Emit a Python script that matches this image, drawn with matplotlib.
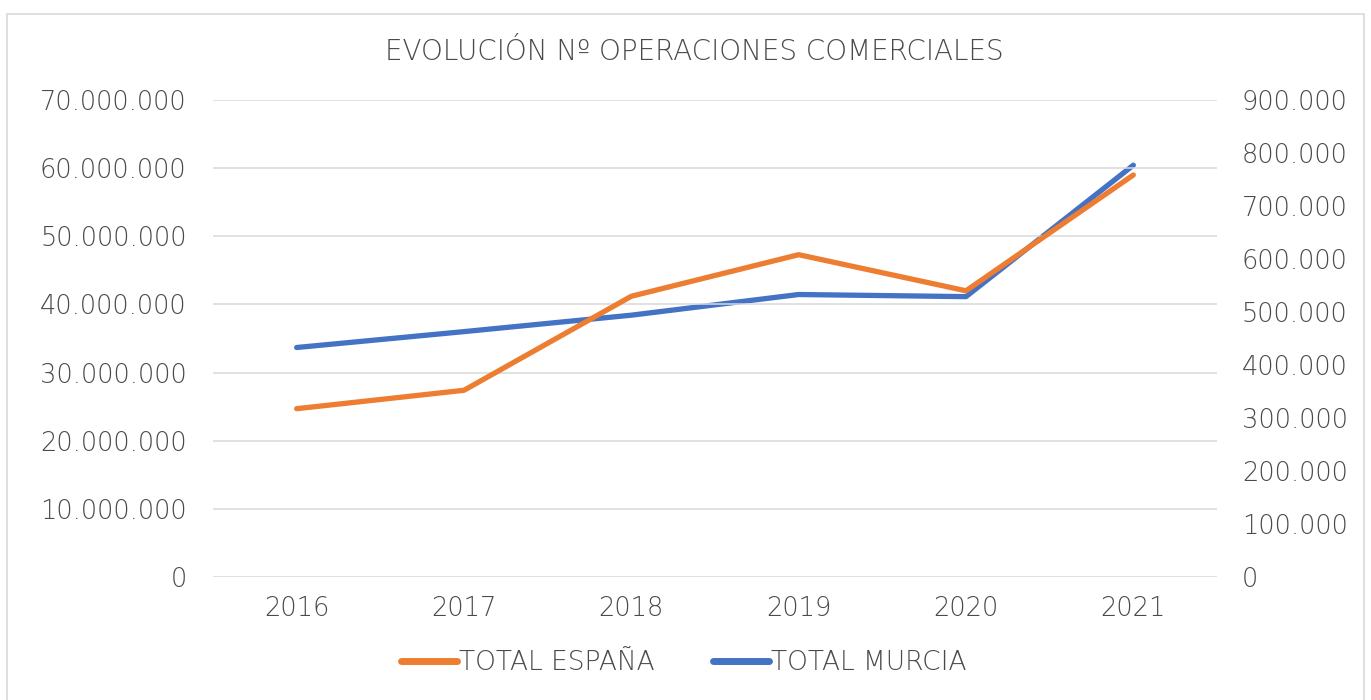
import matplotlib
matplotlib.use("Agg")
import matplotlib.pyplot as plt
from matplotlib.ticker import FuncFormatter, MultipleLocator
from matplotlib.lines import Line2D
from matplotlib.patches import Rectangle

years = ["2016", "2017", "2018", "2019", "2020", "2021"]
total_espana = [24_700_000, 27_400_000, 41_200_000, 47_300_000, 42_000_000, 59_000_000]
total_murcia = [433_000, 463_000, 494_000, 533_000, 529_000, 777_000]

title = "EVOLUCIÓN Nº OPERACIONES COMERCIALES"
label_es = "TOTAL ESPAÑA"
label_mu = "TOTAL MURCIA"

ORANGE = "#ED7D31"
BLUE = "#4472C4"
TXT = "#4a4a4a"
GRID = "#d9d9d9"

plt.rcParams["font.family"] = ["DejaVu Sans"]
plt.rcParams["font.weight"] = 200

W, H = 1371, 700
fig = plt.figure(figsize=(W / 100, H / 100), dpi=100)
fig.patch.set_facecolor("white")

# outer border
fig.patches.append(Rectangle((7 / W, -0.01), (1364 - 7) / W, 1 - 14 / H + 0.01,
                             transform=fig.transFigure, fill=False,
                             edgecolor=GRID, linewidth=1.2))

ax = fig.add_axes([213 / W, 1 - 577 / H, (1217 - 213) / W, (577 - 100) / H])
ax2 = ax.twinx()

x = list(range(len(years)))
ax.plot(x, total_espana, color=ORANGE, linewidth=3.8, solid_capstyle="round",
        solid_joinstyle="round", zorder=3)
ax2.plot(x, total_murcia, color=BLUE, linewidth=3.8, solid_capstyle="round",
         solid_joinstyle="round", zorder=3)

ax.set_xlim(-0.5, len(years) - 0.5)
ax.set_ylim(0, 70_000_000)
ax2.set_ylim(0, 900_000)
ax.yaxis.set_major_locator(MultipleLocator(10_000_000))
ax2.yaxis.set_major_locator(MultipleLocator(100_000))

fmt = FuncFormatter(lambda v, p: f"{int(round(v)):,}".replace(",", "."))
ax.yaxis.set_major_formatter(fmt)
ax2.yaxis.set_major_formatter(fmt)

ax.set_xticks(x)
ax.set_xticklabels(years)

ax.grid(axis="y", color=GRID, linewidth=1.1)
ax.set_axisbelow(True)
for a in (ax, ax2):
    for s in a.spines.values():
        s.set_visible(False)
    a.tick_params(length=0, labelsize=18.5, labelcolor=TXT)
ax.tick_params(axis="y", pad=19)
ax2.tick_params(axis="y", pad=18)
ax.tick_params(axis="x", pad=14)
ax.set_zorder(ax2.get_zorder() + 1)
ax.patch.set_visible(False)

fig.text(694 / W, 1 - 52 / H, title, ha="center", va="center",
         fontsize=20, color=TXT, fontweight=200)

handles = [Line2D([], [], color=ORANGE, linewidth=5, solid_capstyle="round"),
           Line2D([], [], color=BLUE, linewidth=5, solid_capstyle="round")]
leg = fig.legend(handles, [label_es, label_mu], loc="center",
                 bbox_to_anchor=(684 / W, 1 - 663 / H), ncol=2, frameon=False,
                 prop={"size": 19, "weight": 200}, handlelength=2.1,
                 handletextpad=0.1, columnspacing=2.2)
for t in leg.get_texts():
    t.set_color(TXT)

fig.savefig("out.png", dpi=100, facecolor="white")
